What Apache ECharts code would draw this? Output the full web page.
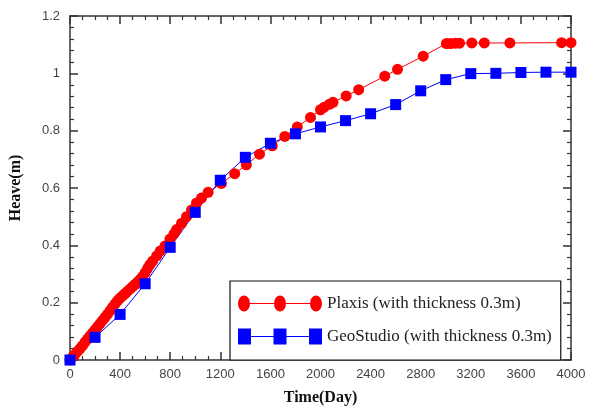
<!DOCTYPE html>
<html>
<head>
<meta charset="utf-8">
<script src="https://cdn.jsdelivr.net/npm/echarts@6/dist/echarts.min.js"></script>
<style>html,body{margin:0;padding:0;background:#fff;}#c{width:592px;height:411px;}</style>
</head>
<body>
<div id="c"></div>
<script>
const plaxisDays = [0,20,40,60,80,100,120,140,160,180,200,220,240,260,280,300,320,340,360,380,400,420,440,460,480,500,520,540,560,580,600,620,
  638,660,692,720,758,798,830,851,891,930,970,1010,1050,1103,1209,1315,1408,1513,1615,1715,1815,1920,2000,2030,2070,2100,2205,2305,2513,2615,2820,3005,3040,3078,3110,3208,3308,3512,3925,4000];
const plaxisHeave = [0,0.01,0.02,0.03,0.04,0.05,0.062,0.073,0.084,0.095,0.105,0.116,0.127,0.138,0.149,0.16,0.172,0.184,0.196,0.207,0.216,0.224,0.232,0.24,0.248,0.256,0.264,0.272,0.281,0.291,0.305,0.32,
  0.333,0.345,0.363,0.38,0.398,0.422,0.44,0.455,0.477,0.5,0.523,0.548,0.565,0.585,0.616,0.65,0.681,0.718,0.747,0.78,0.813,0.846,0.873,0.882,0.892,0.899,0.921,0.943,0.99,1.014,1.06,1.104,1.104,1.105,1.105,1.106,1.106,1.106,1.107,1.107];
const geoDays = [0,200,400,600,800,1000,1200,1400,1600,1800,2000,2200,2400,2600,2800,3000,3200,3400,3600,3800,4000];
const geoHeave = [0,0.079,0.159,0.266,0.393,0.515,0.627,0.707,0.756,0.789,0.813,0.835,0.859,0.891,0.939,0.978,0.999,1.0,1.003,1.004,1.004];
const xTicks = {min:0, max:4000, interval:400};
const yTicks = {min:0, max:1.2, interval:0.2};
const seriesNames = ['Plaxis (with thickness 0.3m)','GeoStudio (with thickness 0.3m)'];
const axisNames = {x:'Time(Day)', y:'Heave(m)'};

const circleIcon = 'path://M0,8 A6,8 0 1,0 12,8 A6,8 0 1,0 0,8 Z M36,8 A6,8 0 1,0 48,8 A6,8 0 1,0 36,8 Z M72,8 A6,8 0 1,0 84,8 A6,8 0 1,0 72,8 Z M12,7.5 L36,7.5 L36,8.5 L12,8.5 Z M48,7.5 L72,7.5 L72,8.5 L48,8.5 Z';
const squareIcon = 'path://M0,0 L13,0 L13,16 L0,16 Z M35.5,0 L48.5,0 L48.5,16 L35.5,16 Z M71,0 L84,0 L84,16 L71,16 Z M13,7.5 L35.5,7.5 L35.5,8.5 L13,8.5 Z M48.5,7.5 L71,7.5 L71,8.5 L48.5,8.5 Z';

const chart = echarts.init(document.getElementById('c'), null, {renderer:'canvas'});
const axisLineStyle = {color:'#333', width:1.5};
const labelFont = {fontFamily:'Liberation Sans, Arial, sans-serif', fontSize:13, color:'#444'};
const nameFont = {fontFamily:'Liberation Serif, Times New Roman, serif', fontSize:16, fontWeight:'bold', color:'#111'};
function fmt(v){ return String(Math.round(v*1000)/1000); }
function xAx(pos, show){
  return {type:'value', position:pos, min:xTicks.min, max:xTicks.max, interval:xTicks.interval,
    name: show ? axisNames.x : '', nameLocation:'middle', nameGap:30, nameTextStyle:nameFont,
    axisLine:{show:true, onZero:false, lineStyle:axisLineStyle},
    axisTick:{show:true, inside:true, length:8, lineStyle:axisLineStyle},
    minorTick:{show:true, splitNumber:4, length:4, lineStyle:{color:'#333', width:1.2}},
    axisLabel:Object.assign({show:show, margin:8, formatter:fmt}, labelFont),
    splitLine:{show:false}};
}
function yAx(pos, show){
  return {type:'value', position:pos, min:yTicks.min, max:yTicks.max, interval:yTicks.interval,
    name: show ? axisNames.y : '', nameLocation:'middle', nameGap:46, nameRotate:90, nameTextStyle:nameFont,
    axisLine:{show:true, onZero:false, lineStyle:axisLineStyle},
    axisTick:{show:true, inside:true, length:8, lineStyle:axisLineStyle},
    minorTick:{show:true, splitNumber:5, length:4, lineStyle:{color:'#333', width:1.2}},
    axisLabel:Object.assign({show:show, margin:10, formatter:fmt}, labelFont),
    splitLine:{show:false}};
}
chart.setOption({
  animation:false,
  backgroundColor:'#fff',
  grid:{left:68, right:21, top:16, bottom:44},
  xAxis:[xAx('bottom', true), xAx('top', false)],
  yAxis:[yAx('left', true), yAx('right', false)],
  legend:{
    left:230, top:281, orient:'vertical',
    backgroundColor:'#fff', borderColor:'#111', borderWidth:1.2,
    padding:[14,9,15,8], itemGap:16, itemWidth:84, itemHeight:16,
    textStyle:{fontFamily:'Liberation Serif, Times New Roman, serif', fontSize:17, color:'#222'},
    data:[
      {name:seriesNames[0], icon:circleIcon, itemStyle:{color:'#ff0000', borderWidth:0}},
      {name:seriesNames[1], icon:squareIcon, itemStyle:{color:'#0000ff', borderWidth:0}}
    ]
  },
  series:[
    {name:seriesNames[0], type:'line', xAxisIndex:0, yAxisIndex:0,
     data:plaxisDays.map((d,i)=>[d, plaxisHeave[i]]),
     symbol:'circle', symbolSize:11, showAllSymbol:true,
     itemStyle:{color:'#ff0000'}, lineStyle:{color:'#ff0000', width:1}},
    {name:seriesNames[1], type:'line', xAxisIndex:0, yAxisIndex:0,
     data:geoDays.map((d,i)=>[d, geoHeave[i]]),
     symbol:'rect', symbolSize:11, showAllSymbol:true,
     itemStyle:{color:'#0000ff'}, lineStyle:{color:'#0000ff', width:1}}
  ]
});
</script>
</body>
</html>
